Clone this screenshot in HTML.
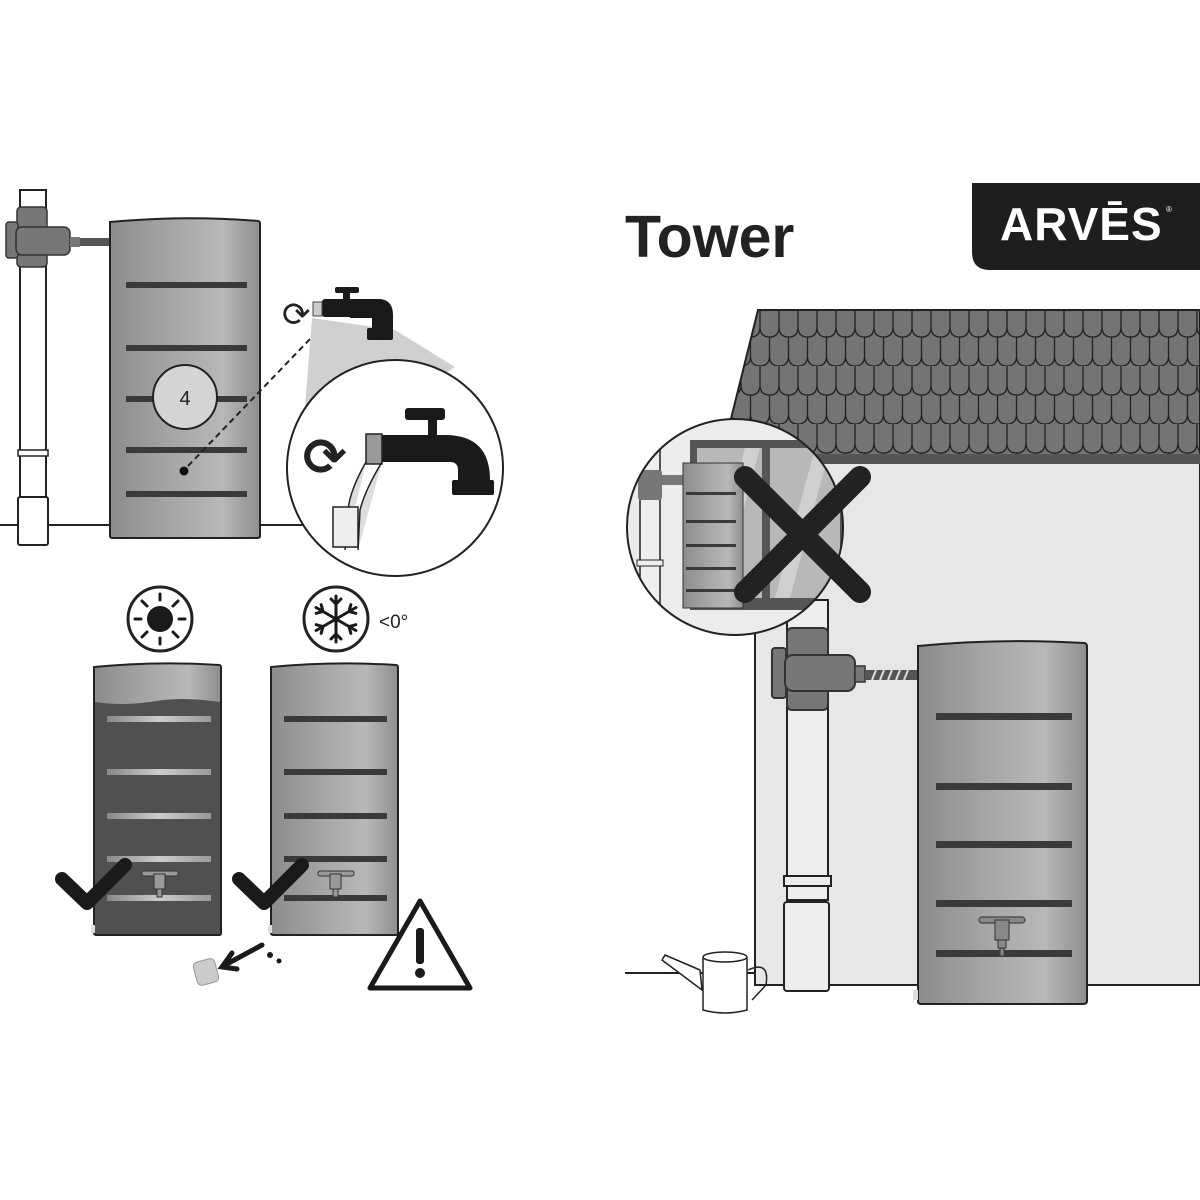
<!DOCTYPE html>
<html><head><meta charset="utf-8"><style>html,body{margin:0;padding:0;background:#fff;width:1200px;height:1200px;overflow:hidden}</style></head>
<body>
<svg width="1200" height="1200" viewBox="0 0 1200 1200" xmlns="http://www.w3.org/2000/svg">
<defs>
<linearGradient id="tg" x1="0" x2="1" y1="0" y2="0">
<stop offset="0" stop-color="#8c8c8c"/><stop offset="0.45" stop-color="#a8a8a8"/><stop offset="0.75" stop-color="#b8b8b8"/><stop offset="1" stop-color="#8e8e8e"/></linearGradient>
<linearGradient id="lg" x1="0" x2="1"><stop offset="0" stop-color="#888"/><stop offset="0.5" stop-color="#ccc"/><stop offset="1" stop-color="#999"/></linearGradient>
<pattern id="sh" width="19" height="58" patternUnits="userSpaceOnUse" x="0" y="308">
<rect width="19" height="58" fill="#747474"/>
<path d="M0,0 V19 Q0,29 9.5,29 Q19,29 19,19 V0" fill="none" stroke="#222" stroke-width="1.3"/>
<path d="M-9.5,29 V48 Q-9.5,58 0,58 Q9.5,58 9.5,48 V29 M9.5,29 V48 Q9.5,58 19,58 Q28.5,58 28.5,48 V29" fill="none" stroke="#222" stroke-width="1.3"/>
</pattern>
<clipPath id="cc"><circle cx="735" cy="527" r="108"/></clipPath>
<clipPath id="cb"><circle cx="395" cy="468" r="108"/></clipPath>
</defs>

<!-- Title & logo -->
<text x="625" y="257" font-family="Liberation Sans, sans-serif" font-weight="bold" font-size="59" fill="#222">Tower</text>
<path d="M972,183 H1200 V270 H990 Q972,270 972,252 Z" fill="#1e1e1e"/>
<text x="1000" y="240" font-family="Liberation Sans, sans-serif" font-weight="bold" font-size="46" fill="#fff" letter-spacing="1">ARVĒS</text>
<text x="1166" y="212" font-family="Liberation Sans, sans-serif" font-size="8" fill="#fff">®</text>

<!-- House -->
<rect x="755" y="460" width="445" height="525" fill="#e6e7e7" stroke="#222" stroke-width="2"/>
<polygon points="758,310 1200,310 1200,463 720,463" fill="url(#sh)" stroke="#222" stroke-width="2"/>
<rect x="720" y="454" width="480" height="10" fill="#555"/>
<line x1="625" y1="973" x2="755" y2="973" stroke="#222" stroke-width="2"/>

<!-- Downpipe -->
<rect x="787" y="600" width="41" height="300" fill="#eee" stroke="#222" stroke-width="2"/>
<rect x="784" y="876" width="47" height="10" fill="#eee" stroke="#222" stroke-width="2"/>
<rect x="784" y="902" width="45" height="89" rx="3" fill="#eee" stroke="#222" stroke-width="2"/>
<rect x="787" y="628" width="41" height="82" rx="5" fill="#777" stroke="#333" stroke-width="2"/>
<rect x="772" y="648" width="14" height="50" rx="3" fill="#777" stroke="#333" stroke-width="2"/>
<rect x="785" y="655" width="70" height="36" rx="8" fill="#777" stroke="#333" stroke-width="2"/>
<rect x="855" y="666" width="10" height="16" fill="#777" stroke="#333" stroke-width="1.5"/>
<rect x="865" y="670" width="54" height="10" fill="#555"/>
<g stroke="#ddd" stroke-width="2"><line x1="872" y1="680" x2="876" y2="670"/><line x1="880" y1="680" x2="884" y2="670"/><line x1="888" y1="680" x2="892" y2="670"/><line x1="896" y1="680" x2="900" y2="670"/><line x1="904" y1="680" x2="908" y2="670"/></g>

<!-- Right tank -->
<path d="M918,646 Q1000,638 1084,643 Q1087,643 1087,647 V1001 Q1087,1004 1083,1004 H921 Q918,1004 918,1001 Z" fill="url(#tg)" stroke="#222" stroke-width="2"/>
<g fill="#3a3a3a"><rect x="936" y="713" width="136" height="7"/><rect x="936" y="783" width="136" height="7"/><rect x="936" y="841" width="136" height="7"/><rect x="936" y="900" width="136" height="7"/><rect x="936" y="950" width="136" height="7"/></g>
<g stroke="#444" stroke-width="1.2" fill="#888"><rect x="979" y="917" width="46" height="6" rx="3"/><rect x="995" y="920" width="14" height="20"/><rect x="998" y="940" width="8" height="8"/><rect x="1000" y="948" width="4" height="8"/></g>
<rect x="913" y="990" width="5" height="10" fill="#ddd"/>

<!-- Watering can -->
<g fill="#fff" stroke="#222" stroke-width="1.5">
<path d="M700,970 L665,955 L662,960 L702,990 Z"/>
<path d="M748,970 Q770,960 766,985 L752,1000" fill="none"/>
<path d="M703,958 V1010 Q725,1016 747,1010 V958 Q725,952 703,958 Z"/>
<ellipse cx="725" cy="957" rx="22" ry="5"/>
</g>

<!-- Inset circle right -->
<circle cx="735" cy="527" r="108" fill="#ececec"/>
<g clip-path="url(#cc)">
<rect x="690" y="440" width="160" height="170" fill="#555"/>
<rect x="697" y="448" width="65" height="150" fill="#b8b8b8"/><rect x="770" y="448" width="70" height="150" fill="#b8b8b8"/>
<polygon points="745,448 760,448 720,598 705,598" fill="#d0d0d0"/>
<polygon points="815,448 830,448 790,598 775,598" fill="#d0d0d0"/>
<rect x="640" y="450" width="20" height="200" fill="#eee" stroke="#222" stroke-width="1.5"/>
<rect x="637" y="560" width="26" height="6" fill="#eee" stroke="#222"/>
<rect x="638" y="470" width="24" height="30" rx="3" fill="#777"/>
<rect x="655" y="475" width="28" height="10" fill="#777"/>
<rect x="683" y="463" width="60" height="145" fill="url(#tg)" stroke="#333" stroke-width="1"/>
<g fill="#3a3a3a"><rect x="686" y="492" width="50" height="3"/><rect x="686" y="520" width="50" height="3"/><rect x="686" y="544" width="50" height="3"/><rect x="686" y="567" width="50" height="3"/><rect x="686" y="589" width="50" height="3"/></g>
</g>
<circle cx="735" cy="527" r="108" fill="none" stroke="#222" stroke-width="2"/>
<g stroke="#222" stroke-width="22" stroke-linecap="round"><line x1="745" y1="477" x2="860" y2="592"/><line x1="860" y1="477" x2="745" y2="592"/></g>

<!-- Top left panel -->
<line x1="0" y1="525" x2="110" y2="525" stroke="#222" stroke-width="2"/>
<line x1="260" y1="525" x2="305" y2="525" stroke="#222" stroke-width="2"/>
<rect x="20" y="190" width="26" height="325" fill="#fff" stroke="#222" stroke-width="2"/>
<rect x="18" y="450" width="30" height="6" fill="#fff" stroke="#222" stroke-width="1.5"/>
<rect x="18" y="497" width="30" height="48" rx="2" fill="#fff" stroke="#222" stroke-width="2"/>
<rect x="17" y="207" width="30" height="60" rx="4" fill="#777" stroke="#333" stroke-width="1.5"/>
<rect x="6" y="222" width="12" height="36" rx="3" fill="#777" stroke="#333" stroke-width="1.5"/>
<rect x="16" y="227" width="54" height="28" rx="6" fill="#777" stroke="#333" stroke-width="1.5"/>
<rect x="70" y="237" width="10" height="10" fill="#777"/>
<rect x="80" y="238" width="30" height="8" fill="#555"/>
<path d="M110,222 Q185,215 258,221 Q260,221 260,224 V536 Q260,538 257,538 H113 Q110,538 110,536 Z" fill="url(#tg)" stroke="#222" stroke-width="2"/>
<g fill="#3a3a3a"><rect x="126" y="282" width="121" height="6"/><rect x="126" y="345" width="121" height="6"/><rect x="126" y="396" width="121" height="6"/><rect x="126" y="447" width="121" height="6"/><rect x="126" y="491" width="121" height="6"/></g>
<circle cx="185" cy="397" r="32" fill="#d4d4d4" stroke="#222" stroke-width="2"/>
<text x="185" y="405" text-anchor="middle" font-family="Liberation Sans, sans-serif" font-size="20" fill="#222">4</text>
<circle cx="184" cy="471" r="4.5" fill="#111"/>
<line x1="188" y1="466" x2="311" y2="338" stroke="#222" stroke-width="2" stroke-dasharray="6,4"/>
<polygon points="312,318 395,330 455,367 300,470" fill="#d0d0d0"/>
<circle cx="395" cy="468" r="108" fill="#fff" stroke="#222" stroke-width="2"/>
<g fill="#1a1a1a">
<rect x="322" y="299" width="46" height="18" rx="3"/><path d="M350,299 H380 Q394,300 393,318 V330 H372 V318 H350 Z"/><rect x="367" y="328" width="26" height="12" rx="2"/>
<rect x="343" y="292" width="7" height="10"/><rect x="335" y="287" width="24" height="6" rx="2"/>
</g>
<rect x="313" y="302" width="9" height="14" fill="#ccc" stroke="#444"/>
<text x="282" y="326" font-family="DejaVu Sans, sans-serif" font-size="34" fill="#222">⟳</text>
<g clip-path="url(#cb)">
<path d="M380,435 H445 Q490,435 490,480 V490 H458 V470 Q458,462 450,462 H380 Z" fill="#1a1a1a"/>
<rect x="452" y="480" width="42" height="15" rx="2" fill="#1a1a1a"/>
<rect x="428" y="418" width="9" height="20" fill="#1a1a1a"/><rect x="405" y="408" width="40" height="12" rx="3" fill="#1a1a1a"/>
<rect x="366" y="434" width="16" height="30" fill="#999" stroke="#222" stroke-width="1.5"/>
<path d="M366,462 Q350,490 348,510 L345,550 M382,462 Q365,490 360,510 L358,550" stroke="#222" stroke-width="1.5" fill="#ddd"/>
<rect x="333" y="507" width="25" height="40" fill="#eee" stroke="#222" stroke-width="1.5"/>
</g>
<text x="303" y="475" font-family="DejaVu Sans, sans-serif" font-size="52" font-weight="bold" fill="#222">⟳</text>

<!-- Icons -->
<circle cx="160" cy="619" r="32" fill="#fff" stroke="#222" stroke-width="3"/>
<circle cx="160" cy="619" r="13" fill="#1a1a1a"/>
<g stroke="#1a1a1a" stroke-width="3" stroke-linecap="round" transform="translate(160,619)">
<line x1="0" y1="-19" x2="0" y2="-25"/><line x1="0" y1="19" x2="0" y2="25"/><line x1="-19" y1="0" x2="-25" y2="0"/><line x1="19" y1="0" x2="25" y2="0"/>
<line x1="13" y1="13" x2="18" y2="18"/><line x1="-13" y1="-13" x2="-18" y2="-18"/><line x1="13" y1="-13" x2="18" y2="-18"/><line x1="-13" y1="13" x2="-18" y2="18"/></g>
<circle cx="336" cy="619" r="32" fill="#fff" stroke="#222" stroke-width="3"/>
<g stroke="#1a1a1a" stroke-width="3" stroke-linecap="round" transform="translate(336,619)">
<g id="arm"><line x1="0" y1="-23" x2="0" y2="23"/><polyline points="-5,-20 0,-15 5,-20" fill="none"/><polyline points="-5,20 0,15 5,20" fill="none"/></g>
<use href="#arm" transform="rotate(60)"/><use href="#arm" transform="rotate(-60)"/></g>
<text x="379" y="628" font-family="Liberation Sans, sans-serif" font-size="19" fill="#222">&lt;0°</text>

<!-- Dark tank -->
<path d="M94,667 Q158,661 219,665 Q221,665 221,668 V933 Q221,935 219,935 H97 Q94,935 94,933 Z" fill="#505050" stroke="#222" stroke-width="2"/>
<path d="M95,668 Q158,662 220,666 V702 Q180,696 150,702 Q120,706 95,702 Z" fill="url(#tg)"/>
<g fill="url(#lg)"><rect x="107" y="716" width="104" height="6"/><rect x="107" y="769" width="104" height="6"/><rect x="107" y="813" width="104" height="6"/><rect x="107" y="856" width="104" height="6"/><rect x="107" y="895" width="104" height="6"/></g>
<!-- Light tank -->
<path d="M271,667 Q335,661 396,665 Q398,665 398,668 V933 Q398,935 396,935 H274 Q271,935 271,933 Z" fill="url(#tg)" stroke="#222" stroke-width="2"/>
<g fill="#3a3a3a"><rect x="284" y="716" width="103" height="6"/><rect x="284" y="769" width="103" height="6"/><rect x="284" y="813" width="103" height="6"/><rect x="284" y="856" width="103" height="6"/><rect x="284" y="895" width="103" height="6"/></g>
<g stroke="#333" stroke-width="1" fill="#999">
<rect x="142" y="871" width="36" height="5" rx="2"/><rect x="154" y="874" width="11" height="15"/><rect x="157" y="889" width="5" height="8"/>
<rect x="318" y="871" width="36" height="5" rx="2"/><rect x="330" y="874" width="11" height="15"/><rect x="333" y="889" width="5" height="8"/></g>
<rect x="91" y="925" width="4" height="8" fill="#ddd"/><rect x="268" y="925" width="4" height="8" fill="#ddd"/>
<g stroke="#1a1a1a" stroke-width="14" stroke-linecap="round" stroke-linejoin="round" fill="none">
<polyline points="62,879 87,903 125,865"/><polyline points="239,879 264,903 302,865"/></g>
<g stroke="#1a1a1a" stroke-width="5" stroke-linecap="round" fill="none"><line x1="262" y1="945" x2="225" y2="965"/><polyline points="232,953 222,967 237,969"/></g>
<circle cx="270" cy="955" r="3" fill="#1a1a1a"/><circle cx="279" cy="961" r="2.5" fill="#1a1a1a"/>
<rect x="195" y="960" width="22" height="24" rx="5" fill="#ccc" stroke="#999" transform="rotate(-15 206 972)"/>
<path d="M420,901 L470,988 H370 Z" fill="#fff" stroke="#1a1a1a" stroke-width="5" stroke-linejoin="round"/>
<rect x="416" y="928" width="8" height="36" rx="3" fill="#1a1a1a"/><circle cx="420" cy="973" r="5" fill="#1a1a1a"/>
</svg>
</body></html>
